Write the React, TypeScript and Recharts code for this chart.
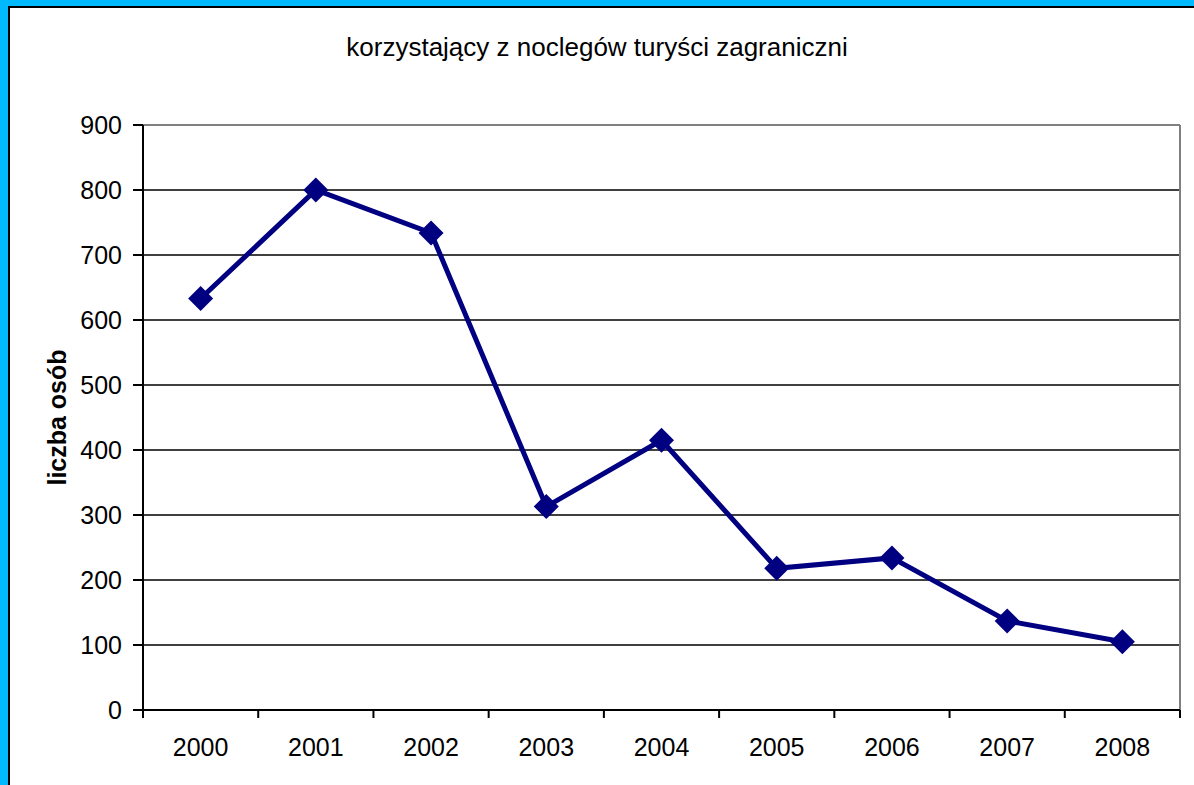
import { CartesianGrid, Line, LineChart, ReferenceLine, XAxis, YAxis } from 'recharts'

const years = ['2000', '2001', '2002', '2003', '2004', '2005', '2006', '2007', '2008']
const visitors = [633, 800, 734, 313, 415, 218, 234, 137, 105]
const yTicks = [0, 100, 200, 300, 400, 500, 600, 700, 800, 900]

const data = years.map((year, i) => ({ year, value: visitors[i] }))

const FONT = '"Liberation Sans", Arial, sans-serif'
const NAVY = '#000080'

// diamond marker like the old Excel series style
function Diamond(props: any) {
  const { cx, cy, index } = props
  if (cx == null || cy == null) return null
  const r = 12.5
  return (
    <polygon
      key={`d-${index}`}
      points={`${cx},${cy - r} ${cx + r},${cy} ${cx},${cy + r} ${cx - r},${cy}`}
      fill={NAVY}
    />
  )
}

// label centred in the band, tick marks drawn on band boundaries
function YearTick(props: any) {
  const { x, y, payload, index } = props
  const half = payload?.offset ?? 57.6
  const axisY = y - 28
  const last = index === years.length - 1
  return (
    <g>
      <line x1={x - half} y1={axisY} x2={x - half} y2={axisY + 8} stroke="#000" strokeWidth={2} />
      {last && <line x1={x + half} y1={axisY} x2={x + half} y2={axisY + 8} stroke="#000" strokeWidth={2} />}
      <text x={x} y={y} dy="0.71em" textAnchor="middle" fill="#000" fontSize={25} fontFamily={FONT}>
        {payload.value}
      </text>
    </g>
  )
}

function AxisTitle(props: any) {
  const { viewBox } = props
  const cx = viewBox.x + 57
  const cy = viewBox.y + viewBox.height / 2
  return (
    <text
      x={cx}
      y={cy}
      transform={`rotate(-90 ${cx} ${cy})`}
      textAnchor="middle"
      dominantBaseline="central"
      fontSize={25}
      fontWeight="bold"
      fontFamily={FONT}
      fill="#000"
    >
      liczba osób
    </text>
  )
}

export default function App() {
  return (
    <div
      style={{
        position: 'absolute',
        left: 0,
        top: 0,
        width: 1194,
        height: 785,
        background: '#00B9FF',
        overflow: 'hidden',
      }}
    >
      <div
        style={{
          position: 'absolute',
          left: 8,
          top: 6,
          right: -10,
          bottom: -10,
          background: '#fff',
          borderLeft: '2px solid #000',
          borderTop: '2px solid #000',
        }}
      />
      <div
        style={{
          position: 'absolute',
          left: 597,
          top: 32,
          transform: 'translateX(-50%)',
          whiteSpace: 'nowrap',
          fontFamily: FONT,
          fontSize: 26,
          color: '#000',
        }}
      >
        korzystający z noclegów turyści zagraniczni
      </div>
      <div style={{ position: 'absolute', left: 0, top: 0 }}>
        <LineChart
          width={1194}
          height={785}
          data={data}
          margin={{ top: 125, right: 14, left: 0, bottom: 35 }}
        >
          <CartesianGrid vertical={false} stroke="#000" strokeWidth={1.5} />
          {/* grey right edge of the plot frame */}
          <CartesianGrid
            horizontal={false}
            stroke="#808080"
            strokeWidth={2}
            verticalCoordinatesGenerator={({ offset }: any) => [offset.left + offset.width]}
          />
          <XAxis
            dataKey="year"
            scale="band"
            axisLine={{ stroke: '#000', strokeWidth: 2 }}
            tickLine={false}
            tickSize={8}
            tickMargin={20}
            height={40}
            interval={0}
            tick={<YearTick />}
          />
          <YAxis
            domain={[0, 900]}
            ticks={yTicks}
            interval={0}
            width={143}
            axisLine={{ stroke: '#000', strokeWidth: 2 }}
            tickLine={{ stroke: '#000', strokeWidth: 2 }}
            tickSize={10}
            tickMargin={11}
            tick={{ fill: '#000', fontSize: 25, fontFamily: FONT }}
            label={{ content: <AxisTitle /> }}
          />
          <ReferenceLine y={900} stroke="#808080" strokeWidth={2} />
          <Line
            type="linear"
            dataKey="value"
            stroke={NAVY}
            strokeWidth={5}
            dot={<Diamond />}
            activeDot={false}
            isAnimationActive={false}
          />
        </LineChart>
      </div>
    </div>
  )
}
